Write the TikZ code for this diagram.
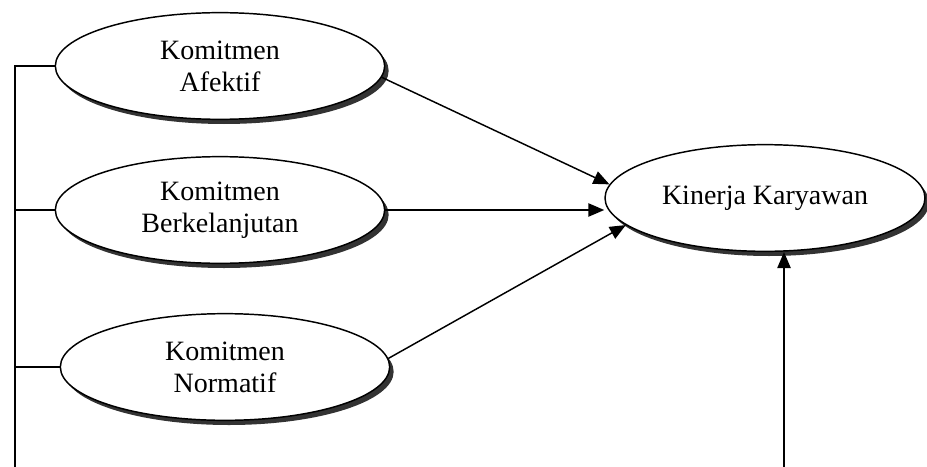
\documentclass[tikz,border=0pt]{standalone}
\usepackage{fontspec}
\setmainfont{Liberation Serif}
\usetikzlibrary{shapes.geometric, shadows, arrows.meta}

\tikzset{
	konstruk/.style={ellipse, draw, line width=1.1pt, fill=white,
		minimum width=247pt, minimum height=80pt, align=center,
		font=\fontsize{21}{24}\selectfont,
		drop shadow={shadow xshift=3pt, shadow yshift=-3.5pt, fill=black!80, opacity=1}},
	panah/.style={line width=1.1pt, -{Triangle[length=12pt, width=10pt]}},
	garis/.style={line width=1.1pt}
}

\begin{document}
\begin{tikzpicture}[x=0.75pt, y=-0.75pt]
		\useasboundingbox (0,0) rectangle (927,467);

		% Constructs
		\node[konstruk] (afektif) at (220,66) {Komitmen\\Afektif};
		\node[konstruk] (berkelanjutan) at (220,210) {Komitmen\\Berkelanjutan};
		\node[konstruk] (normatif) at (225,367) {Komitmen\\Normatif};
		\node[konstruk, minimum width=240pt, minimum height=80pt] (kinerja) at (765,198) {Kinerja Karyawan};

		% Free ends at the bottom
		\coordinate (kiri) at (15,467);
		\coordinate (kanan) at (784,467);

		% Left bracket
		\draw[garis] (afektif.west) -| (kiri);
		\draw[garis] (berkelanjutan.west) -- (berkelanjutan.west -| kiri);
		\draw[garis] (normatif.west) -- (normatif.west -| kiri);

		% Paths to performance
		\draw[panah] (afektif.-4) -- (kinerja.175);
		\draw[panah] (berkelanjutan.east) -- (berkelanjutan.east -| kinerja.west);
		\draw[panah] (normatif.3) -- (kinerja.191);
		\draw[panah] (kanan) -- (kanan |- kinerja.south);
	\end{tikzpicture}
\end{document}
